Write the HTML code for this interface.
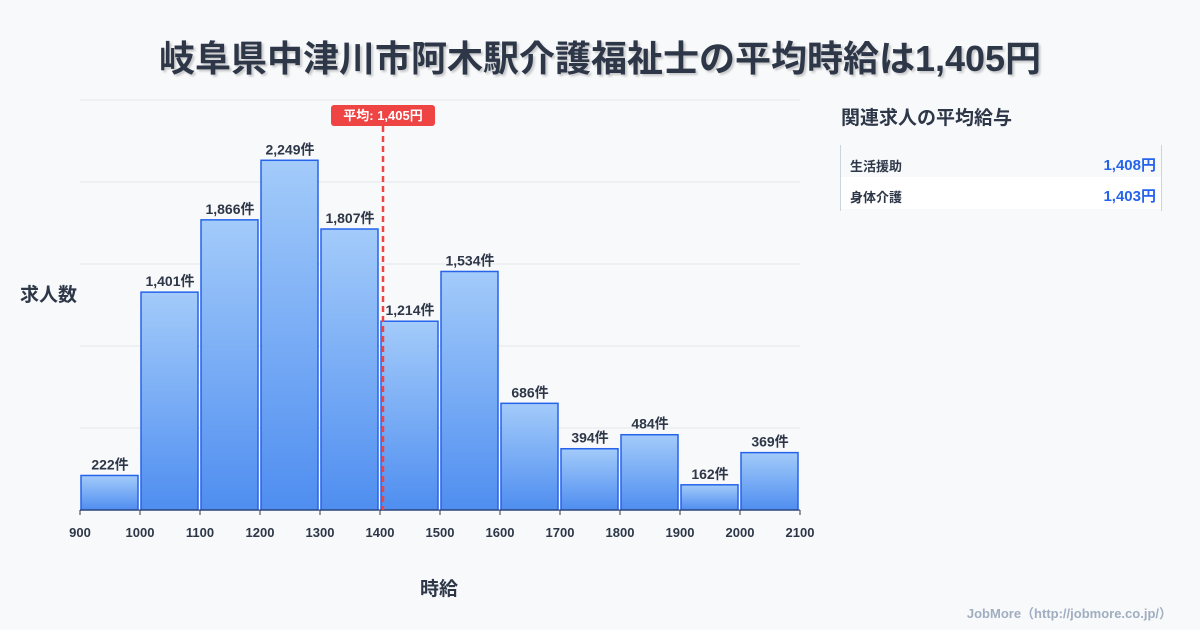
<!DOCTYPE html>
<html><head><meta charset="utf-8"><style>
body{margin:0;width:1200px;height:630px;background:#f8f9fb;font-family:"Liberation Sans","Noto Sans CJK JP",sans-serif;overflow:hidden;position:relative}
.t{position:absolute;white-space:nowrap}
</style></head><body>
<div class="t" style="left:0;width:1200px;top:30px;text-align:center;font-size:36px;font-weight:bold;color:#2d3748;text-shadow:2px 2px 2px rgba(0,0,0,0.2)">岐阜県中津川市阿木駅介護福祉士の平均時給は1,405円</div>
<div class="t" style="left:20px;top:280px;font-size:19px;font-weight:bold;color:#2d3748">求人数</div>
<div class="t" style="left:420px;top:574px;font-size:19px;font-weight:bold;color:#2d3748">時給</div>
<svg id="chart" width="1200" height="630" style="position:absolute;left:0;top:0"></svg>
<div class="t" style="left:841px;top:103px;font-size:19px;font-weight:bold;color:#2d3748">関連求人の平均給与</div>
<div style="position:absolute;left:840px;top:145px;width:320px;height:66px;border-left:1px solid #cbd5e0;border-right:1px solid #cbd5e0">
 <div style="height:32px;background:#f8f9fb;position:relative;font-size:13px;font-weight:bold;color:#2d3748"><span class="t" style="left:9px;top:11px">生活援助</span><span class="t" style="right:5px;top:9px;color:#2563eb;font-size:15px">1,408円</span></div>
 <div style="height:32px;background:#fff;position:relative;font-size:13px;font-weight:bold;color:#2d3748"><span class="t" style="left:9px;top:10px">身体介護</span><span class="t" style="right:5px;top:8px;color:#2563eb;font-size:15px">1,403円</span></div>
</div>
<div class="t" style="right:28px;top:603px;font-size:13px;font-weight:bold;color:#a0aec0">JobMore（http://jobmore.co.jp/）</div>
<script>
const binStarts=[900,1000,1100,1200,1300,1400,1500,1600,1700,1800,1900,2000];
const counts=[222,1401,1866,2249,1807,1214,1534,686,394,484,162,369];
const xTicks=[900,1000,1100,1200,1300,1400,1500,1600,1700,1800,1900,2000,2100];
const avgWage=1405;
const NS="http://www.w3.org/2000/svg";
const svg=document.getElementById('chart');
const x=v=>80+(v-900)*0.6;
const y=v=>510-v*0.1555;
function mk(t,a){const e=document.createElementNS(NS,t);for(const k in a)e.setAttribute(k,a[k]);svg.appendChild(e);return e;}
const defs=mk('defs',{});
defs.innerHTML='<linearGradient id="g" x1="0" y1="0" x2="0" y2="1"><stop offset="0" stop-color="#a3cbfa"/><stop offset="1" stop-color="#4f8ef0"/></linearGradient>';
for(let i=0;i<=5;i++){const gy=510-i*82;const l=mk('line',{x1:80,x2:800,y1:gy,y2:gy,stroke:'#e5e7eb','stroke-width':1});
}
binStarts.forEach((b,i)=>{
 const r=mk('rect',{x:x(b)+1,y:y(counts[i]),width:57,height:510-y(counts[i]),fill:'url(#g)',stroke:'#2563eb','stroke-width':1.5});
 
 const t=mk('text',{x:x(b)+30,y:y(counts[i])-6,'text-anchor':'middle','font-size':14,'font-weight':'bold',fill:'#2d3748'});
 t.textContent=counts[i].toLocaleString('en-US')+'件';
 
});
const ax=mk('line',{x1:80,x2:800,y1:510,y2:510,stroke:'#2d3748','stroke-width':1});

xTicks.forEach(v=>{
 const tk=mk('line',{x1:x(v),x2:x(v),y1:510,y2:515,stroke:'#2d3748'});
 
 const t=mk('text',{x:x(v),y:537,'text-anchor':'middle','font-size':13,'font-weight':'bold',fill:'#2d3748'});
 t.textContent=v;
});
const ax2=x(avgWage);
const al=mk('line',{x1:ax2,x2:ax2,y1:126,y2:510,stroke:'#ef4444','stroke-width':2.5,'stroke-dasharray':'6,4'});

const ab=mk('rect',{x:ax2-52,y:105,width:104,height:21,rx:3,fill:'#ef4444'});

const at=mk('text',{x:ax2,y:120,'text-anchor':'middle','font-size':13,'font-weight':'bold',fill:'#fff'});
at.textContent='平均: '+avgWage.toLocaleString('en-US')+'円';

</script>
</body></html>
